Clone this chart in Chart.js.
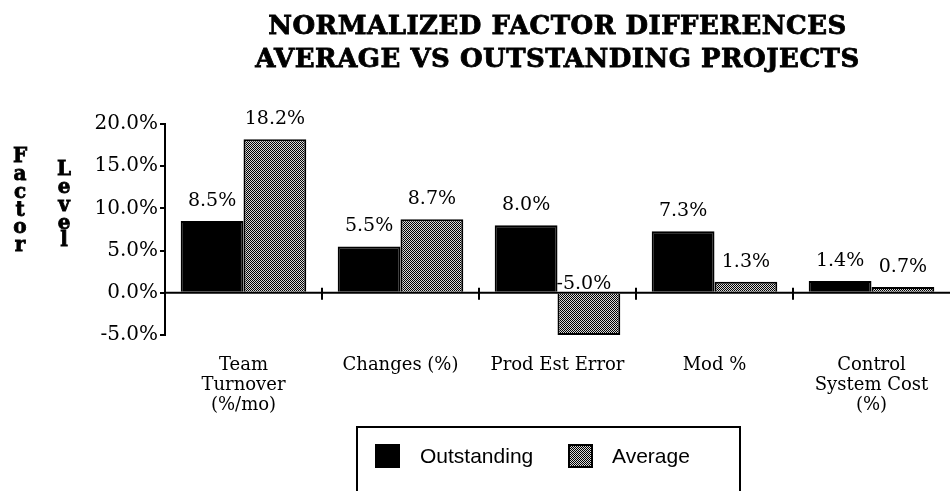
<!DOCTYPE html>
<html>
<head>
<meta charset="utf-8">
<script src="https://cdn.jsdelivr.net/npm/chart.js@4.4.0/dist/chart.umd.min.js"></script>
<style>
  html, body { margin: 0; padding: 0; background: #fff; }
  #wrap { width: 950px; height: 491px; position: relative; }
</style>
</head>
<body>
<div id="wrap"><canvas id="chart"></canvas></div>
<script>
/* ---- data ---- */
var categories = [['Team', 'Turnover', '(%/mo)'], 'Changes (%)', 'Prod Est Error', 'Mod %', ['Control', 'System Cost', '(%)']];
var outstanding = [8.5, 5.5, 8.0, 7.3, 1.4];
var average = [18.2, 8.7, -5.0, 1.3, 0.7];
var seriesNames = ['Outstanding', 'Average'];
var titleLines = ['NORMALIZED FACTOR DIFFERENCES', 'AVERAGE VS OUTSTANDING PROJECTS'];
var yTitles = ['Factor', 'Level'];
var yMin = -5, yMax = 20, yStep = 5;

(function() {
    'use strict';

    /* dithered grey fill for the "Average" bars */
    function makePattern() {
        var c = document.createElement('canvas');
        c.width = 4; c.height = 4;
        var g = c.getContext('2d');
        g.fillStyle = '#d8d8d8';
        g.fillRect(0, 0, 4, 4);
        g.fillStyle = '#000';
        for (var y = 0; y < 4; y++) {
            for (var x = 0; x < 4; x++) {
                if ((x + y) % 2 === 0) g.fillRect(x, y, 1, 1);
            }
        }
        return g.createPattern(c, 'repeat');
    }
    var pattern = makePattern();

    var serif = "'DejaVu Serif', serif";
    var pct = function(v) { return v.toFixed(1) + '%'; };

    /* ---- titles, stacked axis title, zero line marks, value labels, legend ---- */
    var decor = {
        id: 'decor',
        afterDatasetsDraw: function(chart) {
            var ctx = chart.ctx;
            var area = chart.chartArea;
            var xs = chart.scales.x, ys = chart.scales.y;
            var zero = ys.getPixelForValue(0);
            ctx.save();

            // main title (slightly emboldened)
            ctx.fillStyle = '#000';
            ctx.strokeStyle = '#000';
            ctx.lineWidth = 0.8;
            ctx.font = 'bold 26px ' + serif;
            ctx.letterSpacing = '0.5px';
            ctx.textAlign = 'center';
            ctx.textBaseline = 'middle';
            var cx = (area.left + area.right) / 2;
            titleLines.forEach(function(line, i) {
                ctx.fillText(line, cx, 27 + i * 33);
                ctx.strokeText(line, cx, 27 + i * 33);
            });
            ctx.letterSpacing = '0px';

            // stacked "Factor" / "Level"
            ctx.font = 'bold 20px ' + serif;
            var cols = [{ x: 20, y: 157 }, { x: 64, y: 170 }];
            yTitles.forEach(function(word, w) {
                for (var i = 0; i < word.length; i++) {
                    ctx.fillText(word[i], cols[w].x, cols[w].y + i * 17.8);
                    ctx.strokeText(word[i], cols[w].x, cols[w].y + i * 17.8);
                }
            });

            // zero line + category separators
            ctx.lineWidth = 2;
            ctx.beginPath();
            ctx.moveTo(area.left, zero);
            ctx.lineTo(area.right, zero);
            for (var t = 0; t < categories.length - 1; t++) {
                var bx = (xs.getPixelForTick(t) + xs.getPixelForTick(t + 1)) / 2;
                ctx.moveTo(bx, zero - 5);
                ctx.lineTo(bx, zero + 7);
            }
            ctx.stroke();

            // value labels
            ctx.font = '19px ' + serif;
            ctx.textBaseline = 'alphabetic';
            chart.data.datasets.forEach(function(ds, di) {
                chart.getDatasetMeta(di).data.forEach(function(bar, i) {
                    var v = ds.data[i];
                    if (v >= 0) {
                        ctx.fillText(pct(v), bar.x, bar.y - 15);
                    } else {
                        ctx.fillText(pct(v), bar.x - 5, zero - 4);
                    }
                });
            });

            // legend box
            ctx.lineWidth = 2;
            ctx.strokeRect(357, 427, 383, 80);
            ctx.fillStyle = '#000';
            ctx.fillRect(375, 444, 25, 24);
            ctx.fillStyle = pattern;
            ctx.fillRect(568, 444, 25, 24);
            ctx.strokeRect(569, 445, 23, 22);
            ctx.fillStyle = '#000';
            ctx.font = "21px 'Liberation Sans', sans-serif";
            ctx.textAlign = 'left';
            ctx.textBaseline = 'middle';
            ctx.fillText(seriesNames[0], 420, 457);
            ctx.fillText(seriesNames[1], 612, 457);

            ctx.restore();
        }
    };

    new Chart(document.getElementById('chart'), {
        type: 'bar',
        data: {
            labels: categories,
            datasets: [
                {
                    label: seriesNames[0],
                    data: outstanding,
                    backgroundColor: '#000',
                    borderColor: '#000',
                    borderWidth: 2,
                    categoryPercentage: 0.8,
                    barPercentage: 1.0
                },
                {
                    label: seriesNames[1],
                    data: average,
                    backgroundColor: pattern,
                    borderColor: '#000',
                    borderWidth: 2,
                    categoryPercentage: 0.8,
                    barPercentage: 1.0
                }
            ]
        },
        options: {
            responsive: true,
            maintainAspectRatio: false,
            animation: false,
            layout: { padding: { top: 124, right: 0, bottom: 0, left: 0 } },
            plugins: {
                legend: { display: false },
                title: { display: false },
                tooltip: { enabled: false }
            },
            scales: {
                x: {
                    border: { display: false },
                    grid: { display: false },
                    ticks: {
                        color: '#000',
                        font: { family: serif, size: 18, lineHeight: 1.12 },
                        padding: 12,
                        autoSkip: false,
                        maxRotation: 0
                    },
                    afterFit: function(scale) { scale.height = 156; }
                },
                y: {
                    min: yMin,
                    max: yMax,
                    border: { display: true, color: '#000', width: 2 },
                    grid: { drawOnChartArea: false, drawTicks: true, tickLength: 5, color: '#000', lineWidth: 2 },
                    ticks: {
                        stepSize: yStep,
                        color: '#000',
                        font: { family: serif, size: 20 },
                        padding: 2,
                        callback: function(v) { return pct(v); }
                    },
                    afterFit: function(scale) { scale.width = 165; }
                }
            }
        },
        plugins: [decor]
    });
})();
</script>
</body>
</html>
